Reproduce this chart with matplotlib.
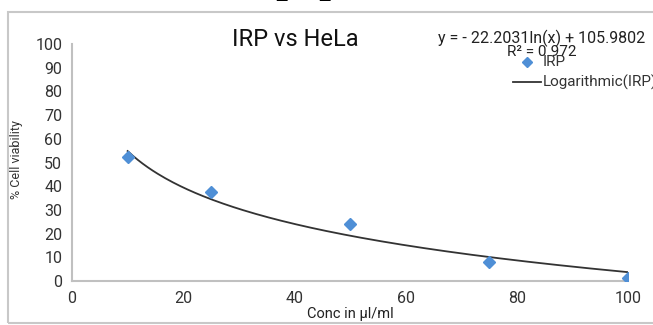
import numpy as np
import matplotlib.pyplot as plt
from matplotlib.patches import Rectangle

# data
conc = [10, 25, 50, 75, 100]
viability = [52.3, 37.5, 24.2, 8.0, 1.4]

# trendline coefficients as printed on the chart
slope = -22.2031
intercept = 105.9802
r2 = 0.972

x_ticks = [0, 20, 40, 60, 80, 100]
y_ticks = list(range(0, 101, 10))

plt.rcParams['font.family'] = ['Roboto', 'DejaVu Sans']

fig = plt.figure(figsize=(6.53, 3.25), dpi=100)
ax = fig.add_axes([0.1103, 0.1354, 0.8515, 0.729])

# light frame round the chart area (runs off the right edge)
fig.patches.append(Rectangle((0.0122, 0.006), 1.0, 0.957, transform=fig.transFigure,
                             fill=False, edgecolor='#c8c8c8', lw=1.5))

# cut-off heading above the frame, only the descenders show
for xp in [287, 330]:
    fig.text(xp / 653, 1 + 6 / 325, 'p', family='DejaVu Serif', fontweight='bold',
             fontsize=24, ha='center', va='baseline', color='black')

xs = np.linspace(min(conc), max(conc), 200)
fit = slope * np.log(xs) + intercept

ax.plot(conc, viability, 'D', color='#4f8fd6', markersize=6.5, zorder=3)
ax.plot(xs, fit, color='#333333', lw=1.3, zorder=2)

ax.set_xlim(0, 100)
ax.set_ylim(0, 100)
ax.set_xticks(x_ticks)
ax.set_yticks(y_ticks)
ax.tick_params(length=0, labelsize=11.5, labelcolor='#333333', pad=7)
for s in ['top', 'right']:
    ax.spines[s].set_visible(False)
for s in ['left', 'bottom']:
    ax.spines[s].set_color('#c0c0c0')
    ax.spines[s].set_linewidth(1.5)

fig.text(295 / 653, 1 - 40 / 325, 'IRP vs HeLa', fontsize=17, ha='center', va='center', color='#111111')
ax.set_xlabel('Conc in µl/ml', fontsize=10.5, color='#222222', labelpad=1)
fig.text(17 / 653, 1 - 160 / 325, '% Cell viability', rotation=90, fontsize=9,
         ha='center', va='center', color='#333333')

fig.text(542 / 653, 1 - 38 / 325, 'y = - 22.2031ln(x) + 105.9802', fontsize=11.5,
         ha='center', va='center', color='#222222')
fig.text(542 / 653, 1 - 52 / 325, 'R² = 0.972', fontsize=11, ha='center', va='center', color='#222222')

# legend drawn by hand to mimic the overlapping layout
fig.lines.append(plt.Line2D([527 / 653], [1 - 62 / 325], marker='D', color='#4f8fd6',
                            markersize=5.5, transform=fig.transFigure))
fig.text(543 / 653, 1 - 62 / 325, 'IRP', fontsize=11, ha='left', va='center', color='#333333')
fig.lines.append(plt.Line2D([513 / 653, 541 / 653], [1 - 82 / 325] * 2, color='#333333',
                            lw=1.3, transform=fig.transFigure))
fig.text(543 / 653, 1 - 82 / 325, 'Logarithmic(IRP)', fontsize=11, ha='left', va='center',
         color='#333333')

fig.savefig('out.png', dpi=100)
